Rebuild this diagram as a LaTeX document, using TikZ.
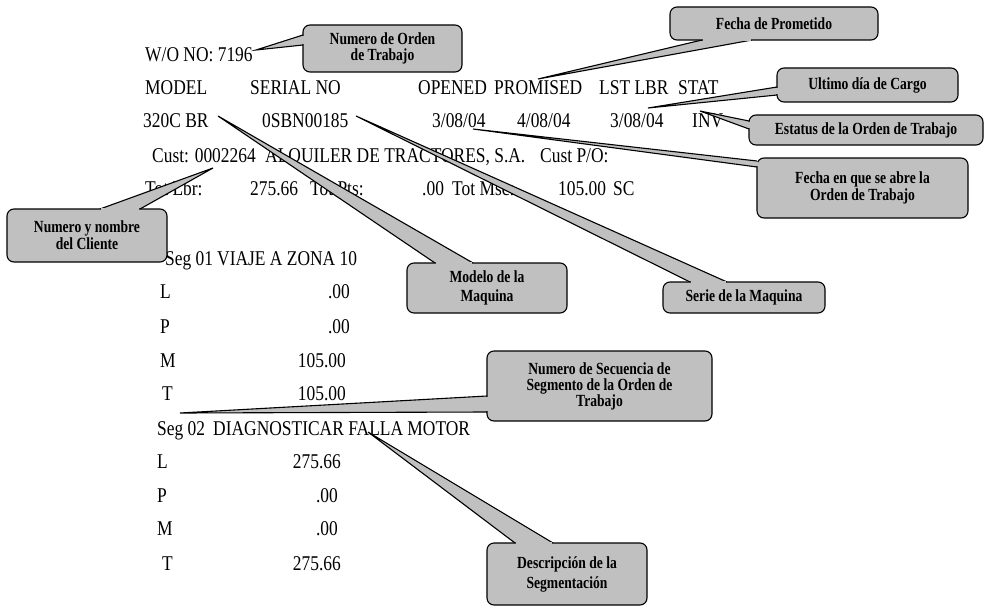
\documentclass[tikz,border=0pt]{standalone}
\usepackage{fontspec}
\setmainfont{Liberation Serif}
\newfontfamily\docfont[FakeStretch=0.83]{Liberation Serif}
\newfontfamily\callfam[FakeStretch=0.8]{Liberation Serif}
\definecolor{callgray}{RGB}{192,192,192}
\tikzset{
  doc/.style={anchor=base west, inner sep=0pt, font=\docfont\fontsize{21}{24}\selectfont},
  docr/.style={doc, anchor=base east},
  cbox/.style={draw, fill=callgray, rounded corners=7pt, line width=1.1pt,
    inner sep=0pt, align=center, font=\callfam\bfseries\fontsize{17}{17}\selectfont},
  wedge/.style={draw, fill=callgray, line width=1.1pt, line join=miter},
  patch/.style={draw=callgray, line width=1.8pt, shorten <=1.3pt, shorten >=1.3pt},
  pitch/.style={font=\callfam\bfseries\fontsize{17}{#1}\selectfont}
}
\begin{document}
\begin{tikzpicture}[x=1pt, y=-1pt]
\useasboundingbox[fill=white] (0,0) rectangle (987,607);

% ---- work order header ----
\node[doc] (wo) at (145,62) {W/O NO: 7196};
\node[doc] (hModel) at (145,95) {MODEL};
\node[doc] (hSerial) at (250,95) {SERIAL NO};
\node[doc] (hOpened) at (418,95) {OPENED};
\node[doc] (hPromised) at (494,95) {PROMISED};
\node[doc] (hLst) at (599,95) {LST LBR};
\node[doc] (hStat) at (678,95) {STAT};

\node[doc] (vModel) at (143,128) {320C BR};
\node[doc] (vSerial) at (262,128) {0SBN00185};
\node[doc] (vOpened) at (432,128) {3/08/04};
\node[doc] (vPromised) at (517,128) {4/08/04};
\node[doc] (vLst) at (610,128) {3/08/04};
\node[doc] (vStat) at (692,128) {INV};

\node[doc] (cust) at (152,162) {Cust: 0002264};
\node[doc] (custName) at (265,162) {ALQUILER DE TRACTORES, S.A.};
\node[doc] (custPO) at (540,162) {Cust P/O:};

\node[doc] (tLbr) at (145,195) {Tot Lbr:};
\node[doc] (tLbrV) at (250,195) {275.66};
\node[doc] (tPts) at (310,195) {Tot Pts:};
\node[doc] (tPtsV) at (422,195) {.00};
\node[doc] (tMsc) at (452,195) {Tot Msc:};
\node[doc] (tMscV) at (558,195) {105.00};
\node[doc] (tSC) at (613,195) {SC};

% ---- segment 01 ----
\node[doc] (seg1) at (165,265) {Seg 01};
\node[doc] (seg1d) at (217,265) {VIAJE A ZONA 10};
\node[doc] (s1L) at (160,298) {L};
\node[docr] (s1Lv) at (350,298) {.00};
\node[doc] (s1P) at (160,333) {P};
\node[docr] (s1Pv) at (350,333) {.00};
\node[doc] (s1M) at (160,367) {M};
\node[docr] (s1Mv) at (346,367) {105.00};
\node[doc] (s1T) at (162,400) {T};
\node[docr] (s1Tv) at (346,400) {105.00};

% ---- segment 02 ----
\node[doc] (seg2) at (157,435) {Seg 02};
\node[doc] (seg2d) at (213,435) {DIAGNOSTICAR FALLA MOTOR};
\node[doc] (s2L) at (157,468) {L};
\node[docr] (s2Lv) at (341,468) {275.66};
\node[doc] (s2P) at (157,502) {P};
\node[docr] (s2Pv) at (338,502) {.00};
\node[doc] (s2M) at (157,535) {M};
\node[docr] (s2Mv) at (338,535) {.00};
\node[doc] (s2T) at (162,570) {T};
\node[docr] (s2Tv) at (341,570) {275.66};

% ---- callouts: wedge, box, then a patch over the box border at the wedge base ----
% work order number
\coordinate (tOrd) at (256,50);
\coordinate (aOrd) at (303,35);
\coordinate (bOrd) at (303,45);
\draw[wedge] (aOrd) -- (tOrd) -- (bOrd);
\node[cbox, pitch=16, minimum width=159pt, minimum height=47pt] (cOrd) at (382.5,48.5) {Numero de Orden\\de Trabajo};
\draw[patch] (aOrd) -- (bOrd);

% promised date
\coordinate (tProm) at (538,79);
\coordinate (aProm) at (702,40);
\coordinate (bProm) at (752,40);
\draw[wedge] (aProm) -- (tProm) -- (bProm);
\node[cbox, minimum width=208pt, minimum height=33pt] (cProm) at (774,23.5) {Fecha de Prometido};
\draw[patch] (aProm) -- (bProm);

% last labour date
\coordinate (tCargo) at (648,108);
\coordinate (aCargo) at (777,87);
\coordinate (bCargo) at (777,95);
\draw[wedge] (aCargo) -- (tCargo) -- (bCargo);
\node[cbox, minimum width=181pt, minimum height=34pt] (cCargo) at (867.5,85) {Ultimo día de Cargo};
\draw[patch] (aCargo) -- (bCargo);

% status
\coordinate (tStat) at (700,111);
\coordinate (aStat) at (749,121);
\coordinate (bStat) at (749,129);
\draw[wedge] (aStat) -- (tStat) -- (bStat);
\node[cbox, minimum width=234pt, minimum height=30pt] (cStat) at (866,130) {Estatus de la Orden de Trabajo};
\draw[patch] (aStat) -- (bStat);

% opening date
\coordinate (tAbre) at (473,129);
\coordinate (aAbre) at (757,161);
\coordinate (bAbre) at (757,167);
\draw[wedge] (aAbre) -- (tAbre) -- (bAbre);
\node[cbox, pitch=15, minimum width=211pt, minimum height=60pt] (cAbre) at (862.5,188) {Fecha en que se abre la\\Orden de Trabajo};
\draw[patch] (aAbre) -- (bAbre);

% customer
\coordinate (tCli) at (213,168);
\coordinate (aCli) at (100,209);
\coordinate (bCli) at (140,209);
\draw[wedge] (aCli) -- (tCli) -- (bCli);
\node[cbox, pitch=17, minimum width=160pt, minimum height=53pt] (cCli) at (87,235.5) {Numero y nombre\\del Cliente};
\draw[patch] (aCli) -- (bCli);

% machine model
\coordinate (tMod) at (218,116);
\coordinate (aMod) at (435,263);
\coordinate (bMod) at (473,263);
\draw[wedge] (aMod) -- (tMod) -- (bMod);
\node[cbox, pitch=19, minimum width=160pt, minimum height=50pt] (cMod) at (487,288) {Modelo de la\\Maquina};
\draw[patch] (aMod) -- (bMod);

% machine serial
\coordinate (tSer) at (356,116);
\coordinate (aSer) at (690,282);
\coordinate (bSer) at (727,282);
\draw[wedge] (aSer) -- (tSer) -- (bSer);
\node[cbox, minimum width=162pt, minimum height=31pt] (cSer) at (744,297.5) {Serie de la Maquina};
\draw[patch] (aSer) -- (bSer);

% segment sequence number
\coordinate (tSec) at (180,413);
\coordinate (aSec) at (487,396);
\coordinate (bSec) at (487,412);
\draw[wedge] (aSec) -- (tSec) -- (bSec);
\node[cbox, pitch=16, minimum width=225pt, minimum height=70pt] (cSec) at (599.5,386) {Numero de Secuencia de\\Segmento de la Orden de\\Trabajo};
\draw[patch] (aSec) -- (bSec);

% segment description
\coordinate (tDesc) at (368,432);
\coordinate (aDesc) at (515,543);
\coordinate (bDesc) at (553,543);
\draw[wedge] (aDesc) -- (tDesc) -- (bDesc);
\node[cbox, pitch=20, minimum width=160pt, minimum height=62pt] (cDesc) at (567,574) {Descripción de la\\Segmentación};
\draw[patch] (aDesc) -- (bDesc);
\end{tikzpicture}
\end{document}
